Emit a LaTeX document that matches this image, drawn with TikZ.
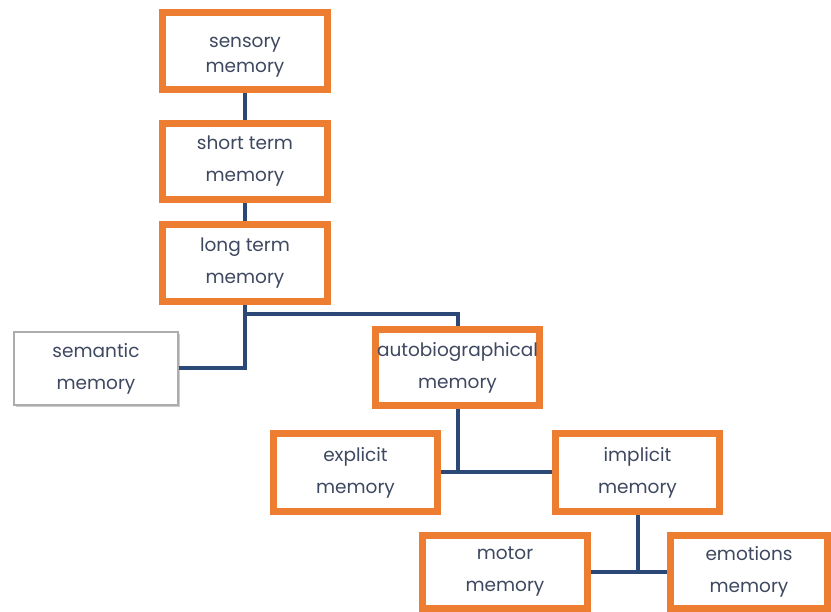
\documentclass[tikz,border=0pt]{standalone}
\usepackage{fontspec}
\setmainfont{Poppins}
\usetikzlibrary{shadows}
\definecolor{boxorange}{RGB}{237,125,49}
\definecolor{linkblue}{RGB}{44,72,118}
\definecolor{labelgray}{RGB}{62,72,96}
\begin{document}
\begin{tikzpicture}[x=1pt,y=-1pt,
  labeltext/.style={align=center, text=labelgray,
    font=\fontsize{18.5}{32}\selectfont},
  membox/.style={draw=boxorange, line width=7pt, fill=white, rectangle,
    inner sep=0pt, labeltext},
  plainbox/.style={draw=gray!65, line width=1.4pt, fill=white, rectangle,
    inner sep=0pt, labeltext,
    drop shadow={shadow xshift=2pt, shadow yshift=-2.5pt, opacity=0.4}},
  link/.style={draw=linkblue, line width=4pt}]
\useasboundingbox (0,0) rectangle (831,612);
\fill[white] (0,0) rectangle (831,612);

% memory stages
\node[membox, minimum width=165pt, minimum height=77pt] (sensory) at (245,51) {};
\node[labeltext, font=\fontsize{18.5}{25}\selectfont] (sensorytext) at (245,57) {sensory\\memory};
\node[membox, minimum width=165pt, minimum height=76pt] (short) at (245,161.5) {short term\\memory};
\node[membox, minimum width=165pt, minimum height=77pt] (long) at (245,263) {long term\\memory};
\node[plainbox, minimum width=164pt, minimum height=73pt] (semantic) at (96,368.5) {semantic\\memory};
\node[membox, minimum width=164pt, minimum height=76pt] (autobio) at (457.5,367.5) {autobiographical\\memory};
\node[membox, minimum width=164pt, minimum height=78pt] (explicit) at (355.5,472.5) {explicit\\memory};
\node[membox, minimum width=164pt, minimum height=78pt] (implicit) at (637.5,472.5) {implicit\\memory};
\node[membox, minimum width=165pt, minimum height=73pt] (motor) at (505,572) {motor\\memory};
\node[membox, minimum width=157pt, minimum height=73pt] (emotions) at (749,572) {emotions\\memory};

\coordinate (ltfork) at (245,314);

% connectors
\draw[link] (sensory.south) -- (short.north);
\draw[link] (short.south) -- (long.north);
\draw[link] (long.south) |- (semantic.east);
\draw[link] (ltfork) -| (autobio.north);
\draw[link] (autobio.south) -- (autobio.south |- implicit.west);
\draw[link] (explicit.east) -- (implicit.west);
\draw[link] (implicit.south) -- (implicit.south |- motor.east);
\draw[link] (motor.east) -- (emotions.west);
\end{tikzpicture}
\end{document}
